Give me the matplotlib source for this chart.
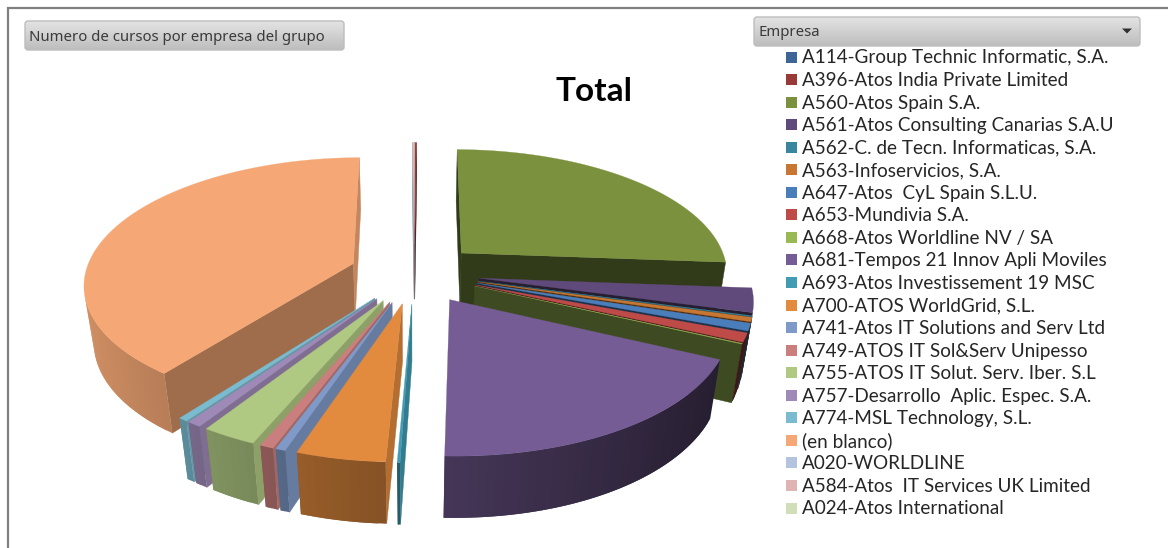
import numpy as np
import matplotlib
matplotlib.use("Agg")
import matplotlib.pyplot as plt
from matplotlib.patches import FancyBboxPatch, Rectangle, Polygon

empresas = ["A114-Group Technic Informatic, S.A.", "A396-Atos India Private Limited",
            "A560-Atos Spain S.A.", "A561-Atos Consulting Canarias S.A.U",
            "A562-C. de Tecn. Informaticas, S.A.", "A563-Infoservicios, S.A.",
            "A647-Atos  CyL Spain S.L.U.", "A653-Mundivia S.A.", "A668-Atos Worldline NV / SA",
            "A681-Tempos 21 Innov Apli Moviles", "A693-Atos Investissement 19 MSC",
            "A700-ATOS WorldGrid, S.L.", "A741-Atos IT Solutions and Serv Ltd",
            "A749-ATOS IT Sol&Serv Unipesso", "A755-ATOS IT Solut. Serv. Iber. S.L",
            "A757-Desarrollo  Aplic. Espec. S.A.", "A774-MSL Technology, S.L.", "(en blanco)",
            "A020-WORLDLINE", "A584-Atos  IT Services UK Limited", "A024-Atos International"]
# share of the pie (%)
cuota = [0.02, 0.11, 26.08, 3.02, 0.11, 0.53, 0.92, 1.10, 0.08, 18.58, 0.14,
         4.45, 0.50, 0.69, 2.78, 0.72, 0.47, 39.57, 0.02, 0.09, 0.02]
colores = ["#3d6697", "#983a38", "#7b913e", "#604a7b", "#38879e", "#c87732", "#4a7ebb",
           "#be4b48", "#98b954", "#755c94", "#409bb3", "#e28a3e", "#7f9ac8", "#ca7f7e",
           "#afc882", "#9f8ab7", "#7abbcf", "#f5a875", "#b4c3de", "#e1b4b4", "#d0deb9"]

W, H = 1168, 548
# perspective pie, fitted on the picture
CX, CY = 414.5, 273.0
R, RC = 268.0, 124.4
P, Q = 0.149, 0.03
D = 58.0
EXPL = 0.243
FONT = "Lato"


def project(u, v, h=0.0):
    s = 1.0 / (1.0 + P * v + Q * h)
    return CX + R * u * s, CY - RC * v * s + D * h * s


def area(pts):
    p = np.array(pts)
    x, y = p[:, 0], p[:, 1]
    return np.sum(x * np.roll(y, -1) - np.roll(x, -1) * y)


def shade(color, f):
    return tuple(np.array(matplotlib.colors.to_rgb(color)) * f)


def draw_slice(ax, a0, a1, color, big):
    mid = np.radians((a0 + a1) / 2)
    ou, ov = EXPL * np.sin(mid), EXPL * np.cos(mid)
    n = max(2, int((a1 - a0) / 1.5))
    th = np.radians(np.linspace(a0, a1, n + 1))
    us, vs = ou + np.sin(th), ov + np.cos(th)
    top = [project(u, v) for u, v in zip(us, vs)]
    bot = [project(u, v, 1.0) for u, v in zip(us, vs)]
    apex_t, apex_b = project(ou, ov), project(ou, ov, 1.0)

    # radial faces, only the ones that look at the camera
    fs = 0.4 if a0 < 180 else (0.65 if big else 0.8)
    fe = 0.4 if a1 < 180 else 0.8
    q = [apex_t, top[0], bot[0], apex_b]
    if area(q) < 0:
        ax.add_patch(Polygon(q, fc=shade(color, fs), ec=shade(color, fs), lw=0.3))
    q = [apex_t, top[-1], bot[-1], apex_b]
    if area(q) > 0:
        ax.add_patch(Polygon(q, fc=shade(color, fe), ec=shade(color, fe), lw=0.3))

    # outer wall, lighter towards the left; quads overlap the next one so no seams show
    for i in range(n):
        j = min(i + 2, n)
        q = [top[i], top[j], bot[j], bot[i]]
        if area(q) < 0:
            f = np.clip(0.58 - 0.28 * np.sin((th[i] + th[i + 1]) / 2), 0.3, 0.9)
            ax.add_patch(Polygon(q, fc=shade(color, f), ec="none"))

    ax.add_patch(Polygon([apex_t] + top, fc=color, ec=color, lw=0.2))


def button(ax, x0, y0, x1, y1):
    box = FancyBboxPatch((x0 + 3, y0 + 3), x1 - x0 - 6, y1 - y0 - 6, boxstyle="round,pad=3",
                         fc="none", ec="#bdbdbd", lw=1.0, zorder=5)
    ax.add_patch(box)
    grad = np.linspace(0.89, 0.74, 64).reshape(-1, 1)
    im = ax.imshow(grad, extent=(x0, x1, y1, y0), cmap="gray", vmin=0, vmax=1,
                   aspect="auto", zorder=4)
    im.set_clip_path(box)


fig = plt.figure(figsize=(W / 100, H / 100), dpi=100)
ax = fig.add_axes([0, 0, 1, 1])

# pie, back slices first
limites = np.concatenate([[0], np.cumsum(cuota)]) / np.sum(cuota) * 360.0
orden = sorted(range(len(cuota)), key=lambda i: -np.cos(np.radians(limites[i] + limites[i + 1]) / 2))
for i in orden:
    draw_slice(ax, limites[i], limites[i + 1], colores[i], cuota[i] > 30)

# frame of the screenshot
ax.plot([8, 8, W], [H, 7.5, 7.5], color="#808080", lw=1.6, solid_joinstyle="miter")

button(ax, 25, 21, 344, 50)
button(ax, 754, 17, 1140, 46)
ax.text(29, 37.5, "Numero de cursos por empresa del grupo", fontsize=10.75, color="#3a3a3a",
        family="Noto Sans", va="center", ha="left", zorder=6)
ax.text(758, 32, "Empresa", fontsize=10.75, color="#3a3a3a", family="Noto Sans",
        va="center", ha="left", zorder=6)
ax.add_patch(Polygon([(1122, 28.5), (1132, 28.5), (1127, 33.5)], fc="#303030", ec="none", zorder=6))

ax.text(594, 91.5, "Total", fontsize=24, fontweight="bold", family=FONT, color="black",
        ha="center", va="center")

# legend
for i, (nombre, color) in enumerate(zip(empresas, colores)):
    y = 57 + i * 22.55
    ax.add_patch(Rectangle((785.5, y - 5.5), 11, 11, fc=color, ec="none"))
    ax.text(802, y + 1, nombre, fontsize=13.6, family=FONT, color="#262626", ha="left", va="center")

ax.set_xlim(0, W)
ax.set_ylim(H, 0)
ax.axis("off")
fig.savefig("out.png", dpi=100, facecolor="white")
